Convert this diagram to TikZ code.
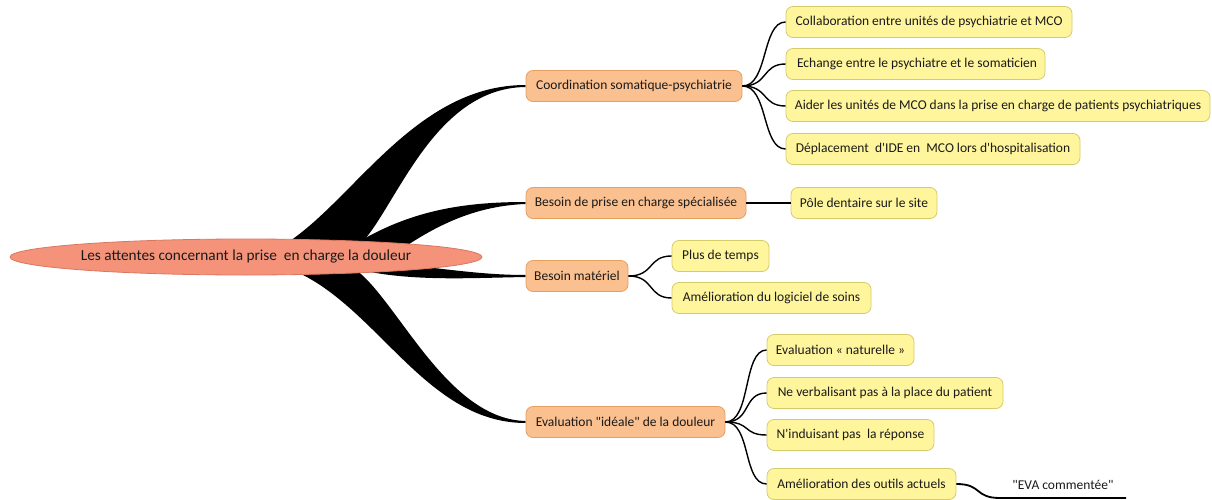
\documentclass[tikz,border=0pt]{standalone}
\usepackage{fontspec}
\setmainfont{Carlito}
\usetikzlibrary{shapes.geometric,calc}
\pgfdeclarelayer{background}
\pgfsetlayers{background,main}
\definecolor{rootF}{HTML}{F4937A}
\definecolor{rootB}{HTML}{D9785E}
\definecolor{oneF}{HTML}{FAC08F}
\definecolor{oneB}{HTML}{E3A060}
\definecolor{twoF}{HTML}{FFF59D}
\definecolor{twoB}{HTML}{D6CB6A}
\definecolor{txt}{HTML}{1A1A1A}
\begin{document}
\begin{tikzpicture}[x=1pt,y=-1pt,
  font=\fontsize{13.5}{16}\selectfont,
  rootnode/.style={ellipse, draw=rootB, fill=rootF, line width=0.8pt, minimum width=472pt, minimum height=36pt, inner sep=0pt, text=txt, font=\fontsize{15.3}{18}\selectfont},
  lvlone/.style={rectangle, rounded corners=7pt, draw=oneB, fill=oneF, line width=0.8pt, minimum height=31pt, inner xsep=0pt, text=txt},
  lvltwo/.style={rectangle, rounded corners=7pt, draw=twoB, fill=twoF, line width=0.8pt, minimum height=31pt, inner xsep=0pt, text=txt},
  branch/.style={fill=black, draw=none},
  link/.style={draw=black, line width=1.4pt},
]
\useasboundingbox (0,0) rectangle (1212,500);

% root
\node[rootnode] (root) at (246,257) {Les attentes concernant la prise\ \ en charge la douleur};

% level one
\node[lvlone, minimum width=216pt] (coord) at (634,86) {Coordination somatique-psychiatrie};
\node[lvlone, minimum width=220pt] (spec) at (636,203) {Besoin de prise en charge spécialisée};
\node[lvlone, minimum width=102pt] (mat) at (577,276) {Besoin matériel};
\node[lvlone, minimum width=199pt] (eval) at (625.5,422) {Evaluation \textquotedbl idéale\textquotedbl{} de la douleur};

% level two
\node[lvltwo, minimum width=286pt] (c1) at (929,22) {Collaboration entre unités de psychiatrie et MCO};
\node[lvltwo, minimum width=259pt] (c2) at (915.5,64) {\ Echange entre le psychiatre et le somaticien};
\node[lvltwo, minimum width=424pt] (c3) at (998,106) {Aider les unités de MCO dans la prise en charge de patients psychiatriques};
\node[lvltwo, minimum width=294pt] (c4) at (933,149) {Déplacement\ \ d\textquotesingle IDE en\ \ MCO lors d\textquotesingle hospitalisation};
\node[lvltwo, minimum width=146pt] (pole) at (864,203) {Pôle dentaire sur le site};
\node[lvltwo, minimum width=97pt] (plus) at (720.5,256) {Plus de temps};
\node[lvltwo, minimum width=199pt] (logi) at (771.5,298) {Amélioration du logiciel de soins};
\node[lvltwo, minimum width=147pt] (nat) at (840.5,350) {Evaluation « naturelle »};
\node[lvltwo, minimum width=236pt] (verb) at (885,393) {Ne verbalisant pas à la place du patient};
\node[lvltwo, minimum width=167pt] (indu) at (850.5,435) {N\textquotesingle induisant pas\ \ la réponse};
\node[lvltwo, minimum width=189pt] (outil) at (861.5,484) {Amélioration des outils actuels};

% leaf without box
\node[text=txt, inner sep=0pt] (eva) at (1063,485) {\textquotedbl EVA commentée\textquotedbl};
\coordinate (evaL) at (1000,498);
\coordinate (evaR) at (1126,498);

% tapered main branches
\begin{pgfonlayer}{background}
\path[branch] ($(root.center)+(29,-7)$) .. controls (348,212) and (410,85) .. ($(coord.west)+(0,-1)$)
  -- ($(coord.west)+(0,1)$) .. controls (428,88) and (392,222) .. ($(root.center)+(108,-7)$) -- cycle;
\path[branch] ($(root.center)+(99,-7)$) .. controls (400,215) and (450,202) .. ($(spec.west)+(0,-1)$)
  -- ($(spec.west)+(0,1)$) .. controls (470,206) and (430,230) .. ($(root.center)+(154,-7)$) -- cycle;
\path[branch] ($(root.center)+(134,5)$) .. controls (440,268) and (480,275) .. ($(mat.west)+(0,-1)$)
  -- ($(mat.west)+(0,1)$) .. controls (470,278) and (420,281) .. ($(root.center)+(124,15)$) -- cycle;
\path[branch] ($(root.center)+(32,8)$) .. controls (372,292) and (420,423) .. ($(eval.west)+(0,1)$)
  -- ($(eval.west)+(0,-1)$) .. controls (442,419) and (392,286) .. ($(root.center)+(102,8)$) -- cycle;
\end{pgfonlayer}

% thin links
\foreach \t in {c1,c2,c3,c4}
  \draw[link] (coord.east) .. controls +(26,0) and +(-24,0) .. (\t.west);
\draw[link] (spec.east) -- (pole.west);
\foreach \t in {plus,logi}
  \draw[link] (mat.east) .. controls +(26,0) and +(-24,0) .. (\t.west);
\foreach \t in {nat,verb,indu,outil}
  \draw[link] (eval.east) .. controls +(26,0) and +(-24,0) .. (\t.west);
\draw[link, line width=1.8pt] (outil.east) .. controls +(26,0) and +(-26,0) .. (evaL) -- (evaR);
\end{tikzpicture}
\end{document}
